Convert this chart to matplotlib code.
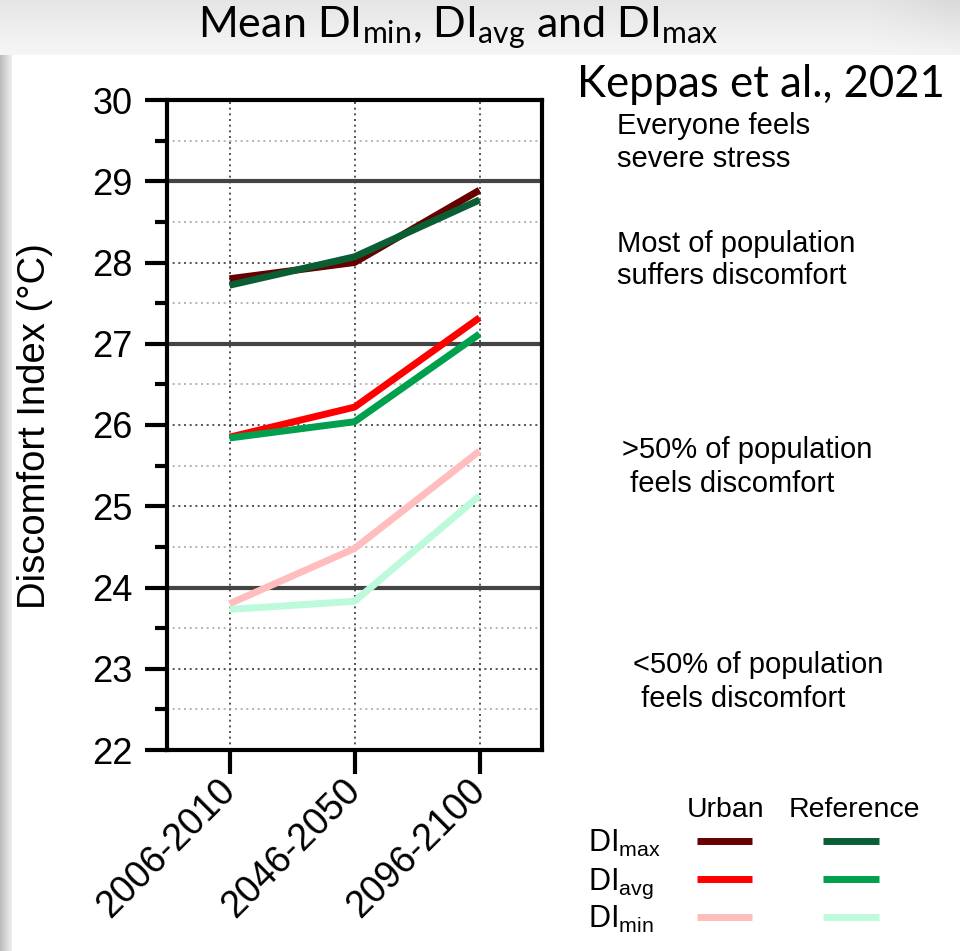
import matplotlib.pyplot as plt
import numpy as np
from matplotlib.lines import Line2D

plt.rcParams['font.family'] = ['Liberation Sans', 'DejaVu Sans']

# data (Keppas et al., 2021)
periods = ['2006-2010', '2046-2050', '2096-2100']
urban_max = [27.80, 28.00, 28.89]
ref_max = [27.72, 28.07, 28.77]
urban_avg = [25.85, 26.22, 27.32]
ref_avg = [25.84, 26.04, 27.12]
urban_min = [23.80, 24.48, 25.68]
ref_min = [23.73, 23.83, 25.13]
thresholds = [24, 27, 29]

urban_cols = ['#670000', '#ff0000', '#ffbdbd']
ref_cols = ['#0a5e33', '#00a04e', '#bdfadc']
stat_names = ['max', 'avg', 'min']

zone_notes = [['Everyone feels', 'severe stress'],
              ['Most of population', 'suffers discomfort'],
              ['>50% of population', ' feels discomfort'],
              ['<50% of population', ' feels discomfort']]
# left x of each line pair and baseline of first line (pixels)
note_pos = [(617, 134), (617, 252), (622, 458), (633, 673)]
note_gap = [33, 32, 34, 34]

fig = plt.figure(figsize=(9.6, 9.51), dpi=100)
fig.patch.set_facecolor('white')

# slide background
bg = fig.add_axes([0, 0, 1, 1], zorder=-10)
bg.set_xlim(0, 960)
bg.set_ylim(951, 0)
bg.axis('off')
top = np.linspace(0.90, 0.965, 55)[:, None] * np.ones((1, 960))
top = top - np.clip((np.arange(960)[None, :] - 870) / 90.0, 0, 1) * 0.05 * np.linspace(1, 0.2, 55)[:, None]
bg.imshow(np.dstack([top] * 3), extent=(0, 960, 55, 0), aspect='auto', zorder=0)
left = np.ones((10, 1)) * np.linspace(0.74, 0.93, 12)[None, :]
bg.imshow(np.dstack([left] * 3), extent=(0, 12, 951, 55), aspect='auto', zorder=0)

ax = fig.add_axes([167 / 960, 1 - 750 / 951, 375 / 960, 650 / 951])
x = np.arange(len(periods))

ax.set_xlim(-0.5, 2.5)
ax.set_ylim(22, 30)
ax.set_yticks(range(22, 31))
ax.set_yticks(np.arange(22.5, 30, 1.0), minor=True)

ax.grid(axis='y', which='major', color='#3a3a3a', lw=1.2, ls=(0, (1.2, 2.2)))
ax.grid(axis='y', which='minor', color='#a8a8a8', lw=1.2, ls=(0, (1.2, 2.2)))
ax.grid(axis='x', which='major', color='#3a3a3a', lw=1.2, ls=(0, (1.2, 2.2)))
for t in thresholds:
    ax.axhline(t, color='#444444', lw=3, zorder=2)

for uv, rv, uc, rc in zip([urban_max, urban_avg, urban_min],
                          [ref_max, ref_avg, ref_min], urban_cols, ref_cols):
    ax.plot(x, uv, color=uc, lw=5, zorder=3, solid_capstyle='butt')
    ax.plot(x, rv, color=rc, lw=5, zorder=3, solid_capstyle='butt')

for s in ax.spines.values():
    s.set_linewidth(3)
ax.tick_params(axis='y', which='major', length=16, width=3, labelsize=26, pad=9)
ax.tick_params(axis='y', which='minor', length=8.5, width=3)
ax.tick_params(axis='x', which='major', length=17, width=3, labelsize=27, pad=8)
ax.set_xticks(x)
ax.set_xticklabels(periods, rotation=45, ha='right', va='center', rotation_mode='anchor')

# overlay for text and legend, pixel coords
ov = fig.add_axes([0, 0, 1, 1], zorder=5)
ov.set_xlim(0, 960)
ov.set_ylim(951, 0)
ov.axis('off')
ov.patch.set_alpha(0)

title = r'Mean DI$_{\mathregular{min}}$, DI$_{\mathregular{avg}}$ and DI$_{\mathregular{max}}$'
ov.text(458, 37, title, family=['Lato', 'DejaVu Sans'], fontsize=31, ha='center', va='baseline')
ov.text(945, 97, 'Keppas et al., 2021', family=['Lato', 'DejaVu Sans'], fontsize=31.5,
        ha='right', va='baseline')
ov.text(35, 426, 'Discomfort Index (°C)', rotation=90, fontsize=27.5, ha='center', va='center')

for lines, (nx, ny), gap in zip(zone_notes, note_pos, note_gap):
    for i, ln in enumerate(lines):
        ov.text(nx, ny + i * gap, ln, fontsize=21, ha='left', va='baseline')

# legend table
ov.text(687, 817, 'Urban', fontsize=20.5, ha='left', va='baseline')
ov.text(789, 817, 'Reference', fontsize=20.5, ha='left', va='baseline')
for i, (nm, uc, rc) in enumerate(zip(stat_names, urban_cols, ref_cols)):
    yy = 841 + i * 38
    ov.text(588, yy + 11, r'DI$_{\mathregular{%s}}$' % nm, fontsize=22, ha='left', va='baseline')
    ov.add_line(Line2D([697, 752], [yy, yy], color=uc, lw=5, solid_capstyle='butt'))
    ov.add_line(Line2D([823, 879], [yy, yy], color=rc, lw=5, solid_capstyle='butt'))

fig.savefig('out.png', dpi=100)
